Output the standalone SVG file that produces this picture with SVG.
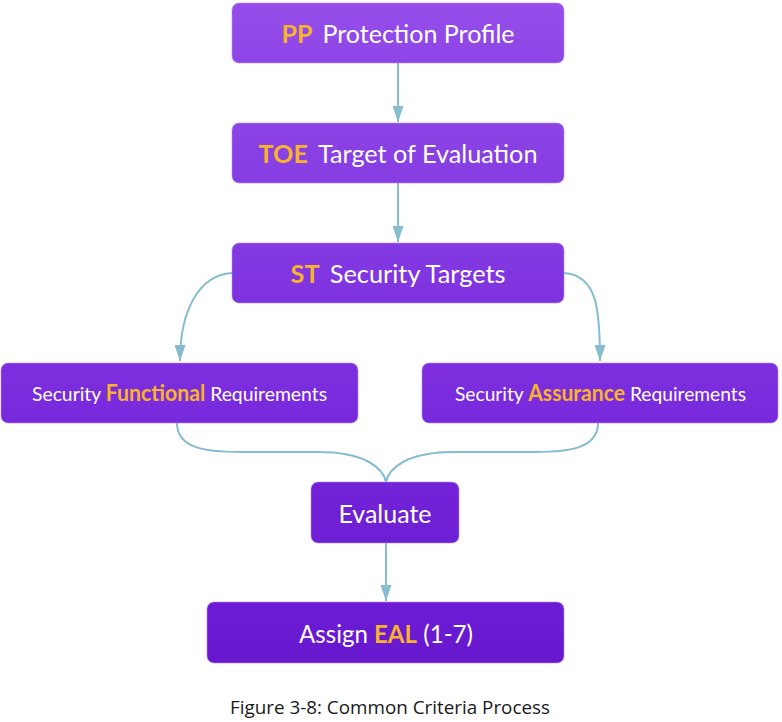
<svg xmlns="http://www.w3.org/2000/svg" width="782" height="722" viewBox="0 0 782 722">
<style>
.box{stroke:#b58af0;stroke-opacity:0.6;stroke-width:1}
.t{font-family:Lato,"Open Sans",sans-serif;fill:#ffffff;text-anchor:middle}
.big{font-size:25px}
.mid{font-size:20px}
.o{fill:#f7b32b;font-weight:bold}
.conn{fill:none;stroke:#86bccf;stroke-width:2}
.cap{font-family:"Open Sans","Noto Sans",sans-serif;font-size:18px;fill:#1a1a1a;text-anchor:middle}
</style>
<defs>
<marker id="ah" markerUnits="userSpaceOnUse" markerWidth="16" markerHeight="11" refX="16" refY="5.5" orient="auto">
<path d="M0,0 L16,5.5 L0,11 Z" fill="#86bccf"/>
</marker>
<linearGradient id="g1" x1="0" y1="0" x2="0" y2="1"><stop offset="0" stop-color="#954eea"/><stop offset="1" stop-color="#8e45e6"/></linearGradient>
<linearGradient id="g2" x1="0" y1="0" x2="0" y2="1"><stop offset="0" stop-color="#8c44e5"/><stop offset="1" stop-color="#853ce2"/></linearGradient>
<linearGradient id="g3" x1="0" y1="0" x2="0" y2="1"><stop offset="0" stop-color="#843ae2"/><stop offset="1" stop-color="#7d32df"/></linearGradient>
<linearGradient id="g4" x1="0" y1="0" x2="0" y2="1"><stop offset="0" stop-color="#7d2ede"/><stop offset="1" stop-color="#7829dc"/></linearGradient>
<linearGradient id="g5" x1="0" y1="0" x2="0" y2="1"><stop offset="0" stop-color="#7323d8"/><stop offset="1" stop-color="#6d1fd4"/></linearGradient>
<linearGradient id="g6" x1="0" y1="0" x2="0" y2="1"><stop offset="0" stop-color="#6c1cd4"/><stop offset="1" stop-color="#6718cf"/></linearGradient>
</defs>
<g id="connectors">
<path class="conn" d="M398,63 L398,122" marker-end="url(#ah)"/>
<path class="conn" d="M398,183 L398,242" marker-end="url(#ah)"/>
<path class="conn" d="M232,273 C198,275 180,312 180,361" marker-end="url(#ah)"/>
<path class="conn" d="M564,273 C598,275 600,312 600,361" marker-end="url(#ah)"/>
<path class="conn" d="M177,423 C177,448 205,452 240,452 L318,452 C365,452 383,468 386,482"/>
<path class="conn" d="M598,423 C598,448 570,452 535,452 L454,452 C407,452 389,468 386,482"/>
<path class="conn" d="M386,543 L386,601" marker-end="url(#ah)"/>
</g>
<g id="pp">
<rect class="box" x="232" y="3" width="332" height="60" rx="7" fill="url(#g1)"/>
<text class="t big" x="398" y="43" textLength="233" lengthAdjust="spacingAndGlyphs"><tspan class="o">PP</tspan><tspan dx="10">Protection Profile</tspan></text>
</g>
<g id="toe">
<rect class="box" x="232" y="123" width="332" height="60" rx="7" fill="url(#g2)"/>
<text class="t big" x="398" y="163" textLength="279" lengthAdjust="spacingAndGlyphs"><tspan class="o">TOE</tspan><tspan dx="10">Target of Evaluation</tspan></text>
</g>
<g id="st">
<rect class="box" x="232" y="243" width="332" height="60" rx="7" fill="url(#g3)"/>
<text class="t big" x="398" y="283" textLength="215" lengthAdjust="spacingAndGlyphs"><tspan class="o">ST</tspan><tspan dx="10">Security Targets</tspan></text>
</g>
<g id="sfr">
<rect class="box" x="1" y="363" width="357" height="60" rx="7" fill="url(#g4)"/>
<text class="t mid" x="179.5" y="401" textLength="295" lengthAdjust="spacingAndGlyphs">Security <tspan class="o" font-size="22">Functional</tspan> Requirements</text>
</g>
<g id="sar">
<rect class="box" x="422" y="363" width="356" height="60" rx="7" fill="url(#g4)"/>
<text class="t mid" x="600.5" y="401" textLength="291" lengthAdjust="spacingAndGlyphs">Security <tspan class="o" font-size="22">Assurance</tspan> Requirements</text>
</g>
<g id="evaluate">
<rect class="box" x="311" y="482" width="148" height="61" rx="7" fill="url(#g5)"/>
<text class="t big" x="385" y="523" textLength="93" lengthAdjust="spacingAndGlyphs">Evaluate</text>
</g>
<g id="assign">
<rect class="box" x="207" y="602" width="357" height="61" rx="7" fill="url(#g6)"/>
<text class="t big" x="386" y="643" textLength="174" lengthAdjust="spacingAndGlyphs">Assign <tspan class="o">EAL</tspan> (1-7)</text>
</g>
<text class="cap" x="390" y="714" textLength="320" lengthAdjust="spacingAndGlyphs">Figure 3-8: Common Criteria Process</text>
</svg>
